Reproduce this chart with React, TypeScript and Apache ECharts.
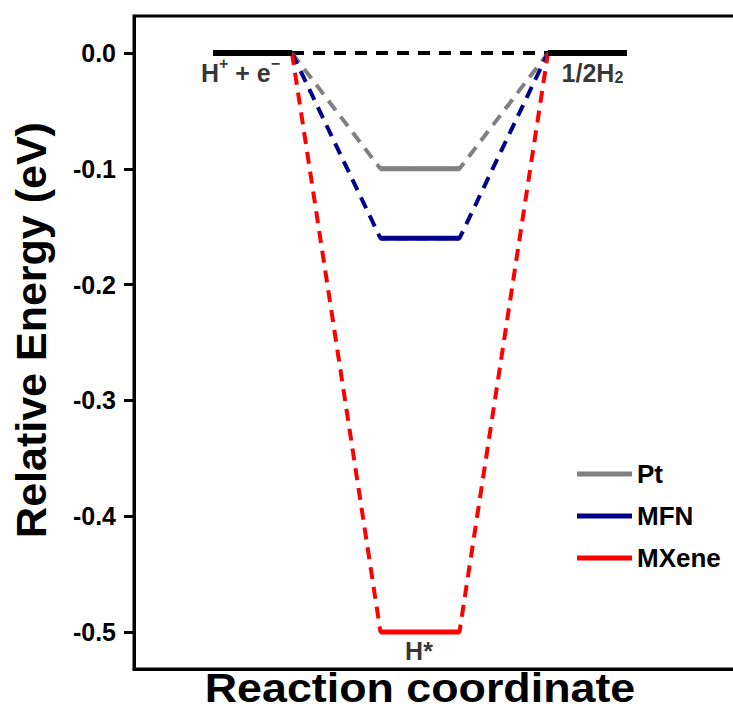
import React, { useEffect, useRef } from "react";
import * as echarts from "echarts";

const FONT = '"Liberation Sans", Arial, Helvetica, sans-serif';

// Reaction coordinate span of each state level: [start, end]
const levelX: number[][] = [
  [1, 2],
  [3.12, 4.12],
  [5.24, 6.24],
];
// State labels (rich-text markup for super/subscripts)
const stateLabels = ["{m|H}{sup|+}{m| + e}{sup|−}", "{m|H*}", "{m|1/2H}{sub|2}"];
// Relative energies (eV) for each state
const ptEnergy = [0, -0.1, 0];
const mfnEnergy = [0, -0.16, 0];
const mxeneEnergy = [0, -0.5, 0];
const referenceEnergy = [0, 0, 0];
// Y tick values
const yTicks = [0, -0.1, -0.2, -0.3, -0.4, -0.5];
const catalysts = ["Pt", "MFN", "MXene"];
const catalystColors = ["#808080", "#00008b", "#ff0000"];
const catalystEnergies = [ptEnergy, mfnEnergy, mxeneEnergy];

export default function App() {
  const ref = useRef<HTMLDivElement>(null);

  useEffect(() => {
    document.body.style.margin = "0";
    if (!ref.current) return;
    const chart = echarts.init(ref.current, undefined, { renderer: "svg" });

    const pathData = (e: number[]) => [
      [levelX[0][1], e[0]],
      [levelX[1][0], e[1]],
      [levelX[1][1], e[1]],
      [levelX[2][0], e[2]],
    ];

    const series: any[] = [];
    series.push({
      name: "ref path",
      type: "line",
      symbol: "none",
      silent: true,
      color: "#000",
      lineStyle: { color: "#000", width: 4, type: [12, 9] },
      data: [
        [levelX[0][1], referenceEnergy[0]],
        [levelX[2][0], referenceEnergy[2]],
      ],
      z: 2,
    });
    catalysts.forEach((name, i) => {
      series.push({
        name: name + " path",
        type: "line",
        symbol: "none",
        silent: true,
        color: catalystColors[i],
        lineStyle: { color: catalystColors[i], width: 4, type: [12, 8] },
        data: pathData(catalystEnergies[i]),
        z: 3,
      });
    });
    catalysts.forEach((name, i) => {
      const e = catalystEnergies[i];
      series.push({
        name,
        type: "line",
        symbol: "none",
        silent: true,
        color: catalystColors[i],
        itemStyle: { color: catalystColors[i] },
        lineStyle: { color: catalystColors[i], width: 5 },
        data: [
          [levelX[1][0], e[1]],
          [levelX[1][1], e[1]],
        ],
        z: 4,
      });
    });
    [0, 2].forEach((k) => {
      series.push({
        name: "ref level " + k,
        type: "line",
        symbol: "none",
        silent: true,
        color: "#000",
        lineStyle: { color: "#000", width: 6 },
        data: [
          [levelX[k][0], referenceEnergy[k]],
          [levelX[k][1], referenceEnergy[k]],
        ],
        z: 5,
      });
    });

    const labelEnergy = [
      referenceEnergy[0],
      Math.min(ptEnergy[1], mfnEnergy[1], mxeneEnergy[1]),
      referenceEnergy[2],
    ];
    const labelOffsets = [[-12, 0], [-1, 0], [5, 0]];
    const rich = {
      m: { fontSize: 25, fontWeight: "bold", fontFamily: FONT, color: "#000", lineHeight: 30, verticalAlign: "bottom" },
      sup: { fontSize: 16, fontWeight: "bold", fontFamily: FONT, color: "#000", lineHeight: 16, verticalAlign: "top" },
      sub: { fontSize: 16, fontWeight: "bold", fontFamily: FONT, color: "#000", lineHeight: 16, verticalAlign: "bottom" },
    };
    series.push({
      name: "state labels",
      type: "scatter",
      symbolSize: 0,
      silent: true,
      z: 6,
      data: stateLabels.map((lab, k) => ({
        value: [(levelX[k][0] + levelX[k][1]) / 2, labelEnergy[k]],
        label: {
          show: true,
          position: "bottom",
          distance: 2,
          offset: labelOffsets[k],
          formatter: lab,
          color: "#000",
          rich,
        },
      })),
    });

    chart.setOption({
      animation: false,
      grid: {
        left: 134,
        top: 16,
        width: 632,
        bottom: 42,
        show: true,
        borderColor: "#000",
        borderWidth: 3,
        outerBoundsMode: "none",
        containLabel: false,
      },
      xAxis: {
        type: "value",
        min: 0,
        max: 8,
        axisLine: { show: true, onZero: false, lineStyle: { color: "#000", width: 3 } },
        axisTick: { show: false },
        axisLabel: { show: false },
        splitLine: { show: false },
      },
      yAxis: {
        type: "value",
        min: -0.532,
        max: 0.032,
        axisLine: { show: true, onZero: false, lineStyle: { color: "#000", width: 3 } },
        axisTick: {
          show: true,
          length: 10,
          customValues: yTicks,
          lineStyle: { color: "#000", width: 3 },
        },
        axisLabel: {
          customValues: yTicks,
          formatter: (v: number) => v.toFixed(1),
          fontSize: 25,
          fontWeight: "bold",
          fontFamily: FONT,
          color: "#000",
          margin: 18,
        },
        splitLine: { show: false },
      },
      legend: {
        data: catalysts,
        orient: "vertical",
        left: 572,
        top: 456,
        icon: "rect",
        itemWidth: 55,
        itemHeight: 5,
        itemGap: 16,
        selectedMode: false,
        textStyle: { fontSize: 26, fontWeight: "bold", fontFamily: FONT, color: "#000", lineHeight: 26 },
      },
      graphic: [
        {
          type: "text",
          x: 31,
          y: 330,
          rotation: Math.PI / 2,
          style: {
            text: "Relative Energy (eV)",
            fontSize: 43,
            fontWeight: "bold",
            fontFamily: FONT,
            fill: "#000",
            align: "center",
            verticalAlign: "middle",
          },
        },
        {
          type: "text",
          x: 420,
          y: 688,
          scaleX: 1.12,
          style: {
            text: "Reaction coordinate",
            fontSize: 40,
            fontWeight: "bold",
            fontFamily: FONT,
            fill: "#000",
            align: "center",
            verticalAlign: "middle",
          },
        },
      ],
      series,
    });

    return () => chart.dispose();
  }, []);

  return <div ref={ref} style={{ width: 733, height: 711, overflow: "hidden" }} />;
}
